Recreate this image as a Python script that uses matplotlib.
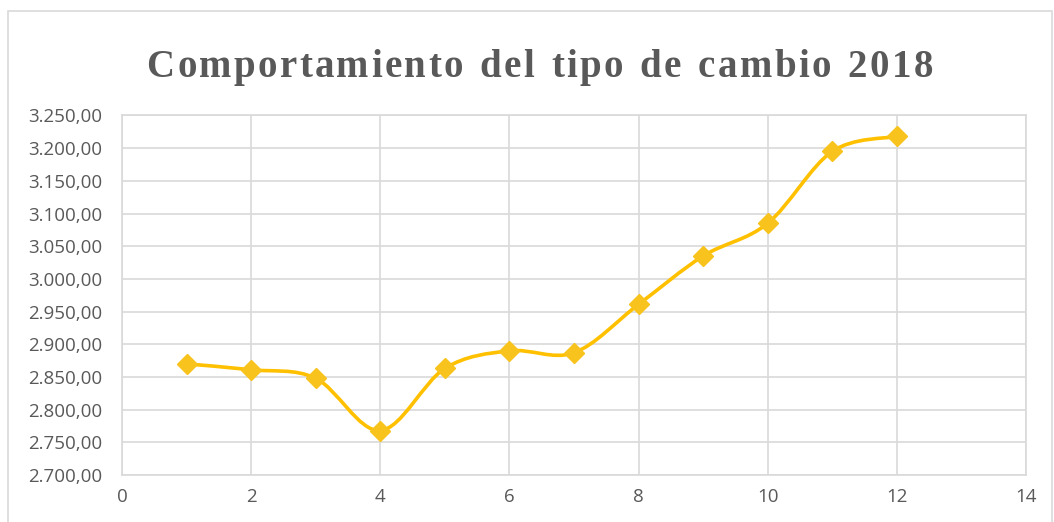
import numpy as np
import matplotlib
matplotlib.use("Agg")
import matplotlib.pyplot as plt
from matplotlib.path import Path
from matplotlib.patches import PathPatch, Rectangle
from matplotlib.ticker import FuncFormatter, MultipleLocator

# ---------------------------------------------------------------------------
# DATA
# ---------------------------------------------------------------------------
meses = [1, 2, 3, 4, 5, 6, 7, 8, 9, 10, 11, 12]
tipo_cambio = [2870, 2861, 2848, 2768, 2863, 2890, 2887, 2961, 3035, 3085, 3195, 3218]
titulo = "Comportamiento del tipo de cambio 2018"

LINE_COLOR = "#FFC000"
MARKER_COLOR = "#F7C31C"
TEXT_COLOR = "#595959"
GRID_COLOR = "#D9D9D9"


def smooth_path(x, y, tension=1 / 6):
    # Excel-like smoothed line: cubic Bezier through each point (Catmull-Rom)
    x = np.asarray(x, float)
    y = np.asarray(y, float)
    verts = [(x[0], y[0])]
    codes = [Path.MOVETO]
    n = len(x)
    for i in range(n - 1):
        i0 = max(i - 1, 0)
        i3 = min(i + 2, n - 1)
        c1 = (x[i] + (x[i + 1] - x[i0]) * tension, y[i] + (y[i + 1] - y[i0]) * tension)
        c2 = (x[i + 1] - (x[i3] - x[i]) * tension, y[i + 1] - (y[i3] - y[i]) * tension)
        verts += [c1, c2, (x[i + 1], y[i + 1])]
        codes += [Path.CURVE4] * 3
    return Path(verts, codes)


def spaced_title(fig, text, xc, y, spacing_px, **kw):
    # matplotlib has no letter-spacing, so place each character by hand
    renderer = fig.canvas.get_renderer()
    widths = []
    for ch in text:
        t = fig.text(0, 0, ch if ch != " " else "n", **kw)
        w = t.get_window_extent(renderer).width
        if ch == " ":
            w *= 0.55
        widths.append(w)
        t.remove()
    total = sum(widths) + spacing_px * (len(text) - 1)
    W = fig.get_figwidth() * fig.dpi
    x = xc * W - total / 2
    for ch, w in zip(text, widths):
        if ch != " ":
            fig.text(x / W, y, ch, ha="left", va="baseline", **kw)
        x += w + spacing_px


fig = plt.figure(figsize=(10.54, 5.22), dpi=100)
ax = fig.add_axes([0.1157, 0.090, 0.8577, 0.6888])

ax.add_patch(PathPatch(smooth_path(meses, tipo_cambio), fill=False,
                       edgecolor=LINE_COLOR, lw=2.6, capstyle="round", zorder=3))
ax.plot(meses, tipo_cambio, linestyle="none", marker="D", markersize=10,
        color=MARKER_COLOR, zorder=4)

ax.set_xlim(0, 14)
ax.set_ylim(2700, 3250)
ax.xaxis.set_major_locator(MultipleLocator(2))
ax.yaxis.set_major_locator(MultipleLocator(50))


def fmt_es(v, pos):
    s = f"{v:,.2f}"
    return s.replace(",", "X").replace(".", ",").replace("X", ".")


ax.yaxis.set_major_formatter(FuncFormatter(fmt_es))
ax.grid(True, color=GRID_COLOR, lw=1.2)
ax.set_axisbelow(True)
for sp in ax.spines.values():
    sp.set_color(GRID_COLOR)
    sp.set_linewidth(1.2)
ax.tick_params(axis="both", length=0, labelcolor=TEXT_COLOR, labelsize=13.5)
ax.tick_params(axis="y", pad=14)
ax.tick_params(axis="x", pad=9)
for lbl in ax.get_xticklabels() + ax.get_yticklabels():
    lbl.set_fontfamily("Open Sans")

# outer chart border
fig.patches.append(Rectangle((0.008, -0.02), 0.99, 0.998, transform=fig.transFigure,
                             fill=False, edgecolor=GRID_COLOR, lw=1.2))

spaced_title(fig, titulo, 0.512, 0.852, 2.4, fontsize=28, fontweight="bold",
             family="Liberation Serif", color=TEXT_COLOR)

fig.savefig("out.png", dpi=100)
